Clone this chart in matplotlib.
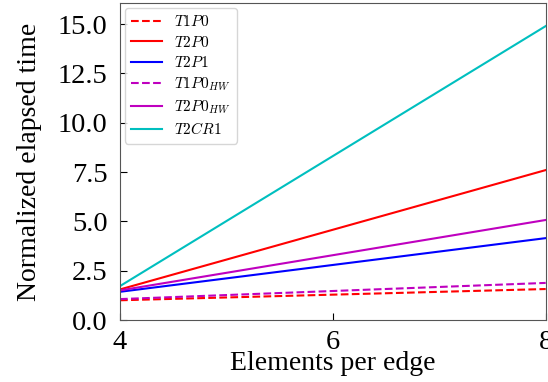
import matplotlib
matplotlib.use("Agg")
import matplotlib.pyplot as plt

plt.rcParams['font.family'] = ['Liberation Serif', 'DejaVu Serif']
plt.rcParams['mathtext.fontset'] = 'cm'

elements = [4, 8]
series_labels = [r'$T1P0$', r'$T2P0$', r'$T2P1$', r'$T1P0_{HW}$', r'$T2P0_{HW}$', r'$T2CR1$']
t1p0 = [1.00, 1.57]
t2p0 = [1.55, 7.60]
t2p1 = [1.43, 4.15]
t1p0_hw = [1.06, 1.88]
t2p0_hw = [1.50, 5.07]
t2cr1 = [1.72, 14.90]

series = [t1p0, t2p0, t2p1, t1p0_hw, t2p0_hw, t2cr1]
styles = [('r', '--'), ('r', '-'), ('b', '-'), ('m', '--'), ('m', '-'), ('c', '-')]

fig = plt.figure(figsize=(5.48, 3.82), dpi=100)
ax = fig.add_axes([120/548, 1-320/382, (545.7-120)/548, (320-3)/382])
for vals, lab, (c, ls) in zip(series, series_labels, styles):
    ax.plot(elements, vals, color=c, linestyle=ls, linewidth=1.5, label=lab)

ax.set_xlim(4, 8)
ax.set_ylim(0, 16.07)
ax.set_xticks([4, 6, 8])
ax.set_yticks([0, 2.5, 5, 7.5, 10, 12.5, 15])
ax.set_yticklabels(['0.0', '2.5', '5.0', '7.5', '10.0', '12.5', '15.0'])
ax.tick_params(direction='in', labelsize=20.5, length=5)
ax.tick_params(axis='y', pad=9)
ax.tick_params(axis='x', pad=7)
ax.set_xlabel('Elements per edge', fontsize=20, labelpad=-3)
ax.set_ylabel('Normalized elapsed time', fontsize=20, labelpad=11)
for s in ax.spines.values():
    s.set_color('#555555')
ax.legend(loc='upper left', fontsize=11, handlelength=2.0, labelspacing=0.35,
          borderaxespad=0.35)
fig.savefig('out.png', dpi=100)
